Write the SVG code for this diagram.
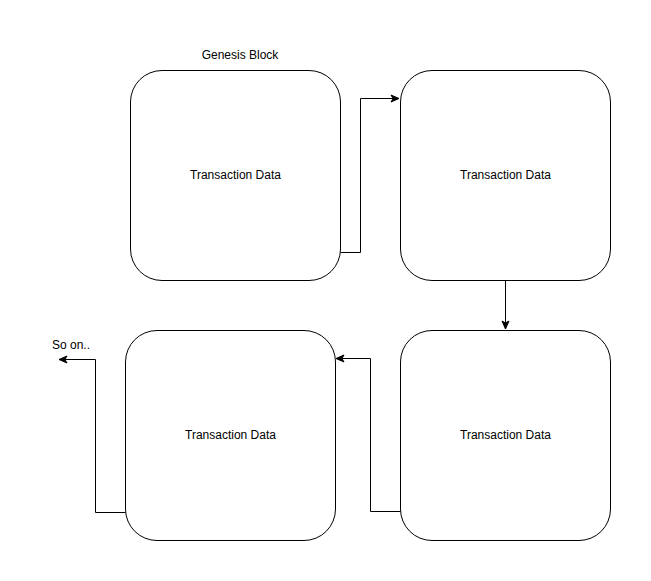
<svg xmlns="http://www.w3.org/2000/svg" width="651" height="581" viewBox="0 0 651 581">
<style>
.box{fill:#fff;stroke:#000;stroke-width:1}
.lbl{font-family:"Liberation Sans",Arial,sans-serif;font-size:12px;fill:#000}
.c{fill:none;stroke:#000;stroke-width:1}
</style>
<defs>
<marker id="ah" viewBox="0 0 10 10" refX="9" refY="5" markerWidth="10" markerHeight="10" markerUnits="userSpaceOnUse" orient="auto">
<path d="M1,1.5 L9,5 L1,8.5 L3,5 Z" fill="#000" stroke="#000" stroke-width="1"/>
</marker>
</defs>
<rect width="651" height="581" fill="#fff"/>
<text class="lbl" x="240" y="59" text-anchor="middle">Genesis Block</text>
<text class="lbl" x="71" y="349" text-anchor="middle">So on..</text>
<g id="block1">
<rect class="box" x="130.5" y="70.5" width="210" height="210" rx="31.5"/>
<text class="lbl" x="235.5" y="179" text-anchor="middle">Transaction Data</text>
</g>
<g id="block2">
<rect class="box" x="400.5" y="70.5" width="210" height="210" rx="31.5"/>
<text class="lbl" x="505.5" y="179" text-anchor="middle">Transaction Data</text>
</g>
<g id="block3">
<rect class="box" x="400.5" y="330.5" width="210" height="210" rx="31.5"/>
<text class="lbl" x="505.5" y="439" text-anchor="middle">Transaction Data</text>
</g>
<g id="block4">
<rect class="box" x="125.5" y="330.5" width="210" height="210" rx="31.5"/>
<text class="lbl" x="230.5" y="439" text-anchor="middle">Transaction Data</text>
</g>
<g id="connectors">
<path class="c" d="M340.5,252.5 H360.5 V98.5 H399" marker-end="url(#ah)"/>
<path class="c" d="M505.5,280.5 V329" marker-end="url(#ah)"/>
<path class="c" d="M400.5,511.5 H370.5 V358.5 H336" marker-end="url(#ah)"/>
<path class="c" d="M125.5,512.5 H95.5 V359.5 H59" marker-end="url(#ah)"/>
</g>
</svg>
